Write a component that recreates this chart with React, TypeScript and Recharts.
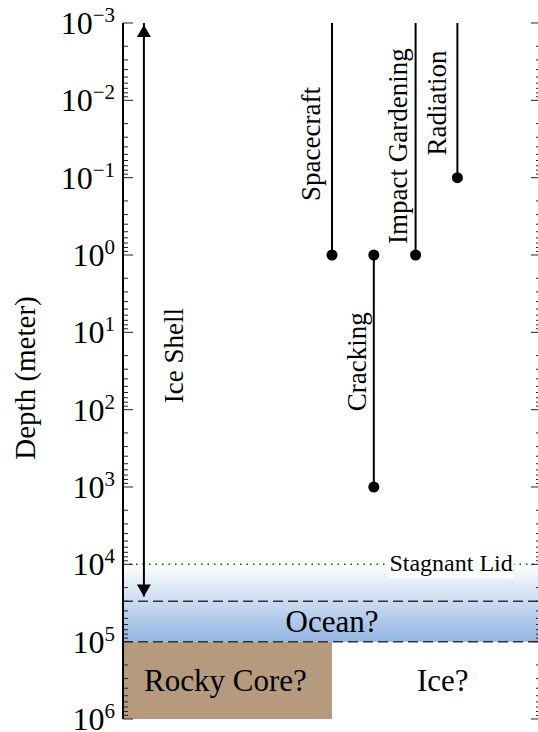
import React from 'react';
import {
  ComposedChart,
  XAxis,
  YAxis,
  Scatter,
  ReferenceArea,
  ReferenceLine,
  ReferenceDot,
} from 'recharts';

const SERIF = '"Liberation Serif", "Times New Roman", Times, serif';

// Depth axis: decades (exponents) and minor multipliers
const decades = [-3, -2, -1, 0, 1, 2, 3, 4, 5, 6];
const minorSteps = [2, 3, 4, 5, 6, 7, 8, 9];
const expLabels = ['\u22123', '\u22122', '\u22121', '0', '1', '2', '3', '4', '5', '6'];

// Vertical extents (depth, m) of each process
const spacecraft = [
  { x: 0.5, y: 1e-3, dot: false },
  { x: 0.5, y: 1, dot: true },
];
const impactGardening = [
  { x: 0.7, y: 1e-3, dot: false },
  { x: 0.7, y: 1, dot: true },
];
const radiation = [
  { x: 0.8, y: 1e-3, dot: false },
  { x: 0.8, y: 0.1, dot: true },
];
const cracking = [
  { x: 0.6, y: 1, dot: true },
  { x: 0.6, y: 1000, dot: true },
];
const iceShell = [
  { x: 0.05, y: 1e-3, arrow: 'up' },
  { x: 0.05, y: 2.6e4, arrow: 'down' },
];

// Layer boundaries (depth, m)
const stagnantLidDepth = 1e4;
const oceanTop = 3e4;
const oceanBottom = 1e5;
const coreBottom = 1e6;
const coreWidth = 0.5;

// Rotated process labels
const processLabels = [
  { text: 'Spacecraft', x: 0.45, y: 0.0367 },
  { text: 'Impact Gardening', x: 0.657, y: 0.039 },
  { text: 'Radiation', x: 0.751, y: 0.0108 },
  { text: 'Cracking', x: 0.56, y: 24 },
  { text: 'Ice Shell', x: 0.122, y: 20 },
];

// Region labels
const regionLabels = [
  { text: 'Ocean?', x: 0.5, y: 5.5e4 },
  { text: 'Rocky Core?', x: 0.245, y: 3.16e5 },
  { text: 'Ice?', x: 0.765, y: 3.16e5 },
];

const allTicks: number[] = [];
decades.forEach((d) => {
  allTicks.push(Math.pow(10, d));
  if (d < decades[decades.length - 1]) {
    minorSteps.forEach((m) => allTicks.push(m * Math.pow(10, d)));
  }
});

const majorIndex = (v: number) => {
  const l = Math.log10(v);
  const r = Math.round(l);
  return Math.abs(l - r) < 1e-9 ? decades.indexOf(r) : -1;
};

function LeftTick(props: any) {
  const { x, y, payload } = props;
  const idx = majorIndex(payload.value);
  const len = idx >= 0 ? 10 : 5;
  return (
    <g>
      <line x1={x} x2={x + len} y1={y} y2={y} stroke="#222" strokeWidth={1} />
      {idx >= 0 && (
        <text x={x - 8} y={y + 11} textAnchor="end" fontSize={32} fontFamily={SERIF} fill="#000">
          10
          <tspan dy={-12} fontSize={21}>
            {expLabels[idx]}
          </tspan>
        </text>
      )}
    </g>
  );
}

function RightTick(props: any) {
  const { x, y, payload } = props;
  const idx = majorIndex(payload.value);
  const len = idx >= 0 ? 10 : 5;
  return <line x1={x} x2={x - len} y1={y} y2={y} stroke="#222" strokeWidth={1} />;
}

function SegmentEnd(props: any) {
  const { cx, cy, payload } = props;
  if (!payload || !payload.dot) return <g />;
  return <circle cx={cx} cy={cy} r={5.5} fill="#000" />;
}

function ArrowEnd(props: any) {
  const { cx, cy, payload } = props;
  if (!payload) return <g />;
  if (payload.arrow === 'up') {
    const t = cy + 2;
    return <polygon points={`${cx},${t} ${cx - 7},${t + 12} ${cx + 7},${t + 12}`} fill="#000" />;
  }
  return <polygon points={`${cx},${cy} ${cx - 7},${cy - 12} ${cx + 7},${cy - 12}`} fill="#000" />;
}

const lineStyle = { stroke: '#000', strokeWidth: 2 };

export default function App() {
  return (
    <div
      style={{
        position: 'absolute',
        left: 0,
        top: 0,
        width: 538,
        height: 732,
        overflow: 'hidden',
        background: '#fff',
      }}
    >
      <ComposedChart width={545} height={732} margin={{ top: 23, right: 3, bottom: 13, left: 0 }}>
        <defs>
          <linearGradient id="oceanGrad" x1="0" y1="0" x2="0" y2="1">
            <stop offset="0%" stopColor="#ffffff" />
            <stop offset="100%" stopColor="#92b5e2" />
          </linearGradient>
        </defs>
        <XAxis
          xAxisId={0}
          dataKey="x"
          type="number"
          domain={[0, 1]}
          allowDataOverflow
          tick={false}
          tickLine={false}
          height={0}
          axisLine={{ stroke: '#000', strokeWidth: 2 }}
        />
        <XAxis
          xAxisId="top"
          orientation="top"
          type="number"
          domain={[0, 1]}
          allowDataOverflow
          tick={false}
          tickLine={false}
          height={0}
          axisLine={{ stroke: '#000', strokeWidth: 2 }}
        />
        <YAxis
          yAxisId={0}
          dataKey="y"
          type="number"
          scale="log"
          domain={[1e-3, 1e6]}
          allowDataOverflow
          reversed
          ticks={allTicks}
          interval={0}
          tickSize={0}
          tickMargin={0}
          tickLine={false}
          tick={<LeftTick />}
          width={123}
          axisLine={{ stroke: '#000', strokeWidth: 2 }}
          label={{
            content: (p: any) => {
              const vb = p.viewBox || { x: 0, y: 23, width: 123, height: 696 };
              const cy = vb.y + vb.height / 2 + 7;
              return (
                <text
                  x={25}
                  y={cy}
                  transform={`rotate(-90, 25, ${cy})`}
                  textAnchor="middle"
                  dominantBaseline="central"
                  fontSize={29}
                  fontFamily={SERIF}
                  fill="#000"
                >
                  Depth (meter)
                </text>
              );
            },
          }}
        />
        <YAxis
          yAxisId="r"
          orientation="right"
          type="number"
          scale="log"
          domain={[1e-3, 1e6]}
          allowDataOverflow
          reversed
          ticks={allTicks}
          interval={0}
          tickSize={0}
          tickMargin={0}
          tickLine={false}
          tick={<RightTick />}
          width={1}
          axisLine={{ stroke: '#000', strokeWidth: 2 }}
        />

        <ReferenceArea
          y1={stagnantLidDepth}
          y2={oceanBottom}
          x1={0}
          x2={1}
          fill="url(#oceanGrad)"
          fillOpacity={1}
          stroke="none"
        />
        <ReferenceArea
          y1={oceanBottom}
          y2={coreBottom}
          x1={0}
          x2={coreWidth}
          fill="#b59a7e"
          fillOpacity={1}
          stroke="none"
        />
        <ReferenceLine y={stagnantLidDepth} stroke="#333" strokeWidth={1.5} strokeDasharray="1.5 5" />
        <ReferenceLine y={oceanTop} stroke="#333" strokeWidth={1.5} strokeDasharray="10 5" />
        <ReferenceLine y={oceanBottom} stroke="#333" strokeWidth={1.5} strokeDasharray="10 5" />

        <ReferenceDot
          x={0.785}
          y={stagnantLidDepth}
          shape={(p: any) => (
            <g>
              <rect x={p.cx - 63} y={p.cy - 11} width={126} height={25} fill="#fff" />
              <text
                x={p.cx}
                y={p.cy + 7}
                textAnchor="middle"
                fontSize={24}
                fontFamily={SERIF}
                fill="#000"
              >
                Stagnant Lid
              </text>
            </g>
          )}
        />

        <Scatter data={spacecraft} line={lineStyle} shape={<SegmentEnd />} isAnimationActive={false} />
        <Scatter data={impactGardening} line={lineStyle} shape={<SegmentEnd />} isAnimationActive={false} />
        <Scatter data={radiation} line={lineStyle} shape={<SegmentEnd />} isAnimationActive={false} />
        <Scatter data={cracking} line={lineStyle} shape={<SegmentEnd />} isAnimationActive={false} />
        <Scatter data={iceShell} line={lineStyle} shape={<ArrowEnd />} isAnimationActive={false} />

        {processLabels.map((l) => (
          <ReferenceDot
            key={l.text}
            x={l.x}
            y={l.y}
            shape={(p: any) => (
              <text
                x={p.cx}
                y={p.cy}
                transform={`rotate(-90, ${p.cx}, ${p.cy})`}
                textAnchor="middle"
                dominantBaseline="central"
                fontSize={27}
                fontFamily={SERIF}
                fill="#000"
              >
                {l.text}
              </text>
            )}
          />
        ))}

        {regionLabels.map((l) => (
          <ReferenceDot
            key={l.text}
            x={l.x}
            y={l.y}
            shape={(p: any) => (
              <text
                x={p.cx}
                y={p.cy}
                textAnchor="middle"
                dominantBaseline="central"
                fontSize={31}
                fontFamily={SERIF}
                fill="#000"
              >
                {l.text}
              </text>
            )}
          />
        ))}
      </ComposedChart>
    </div>
  );
}
